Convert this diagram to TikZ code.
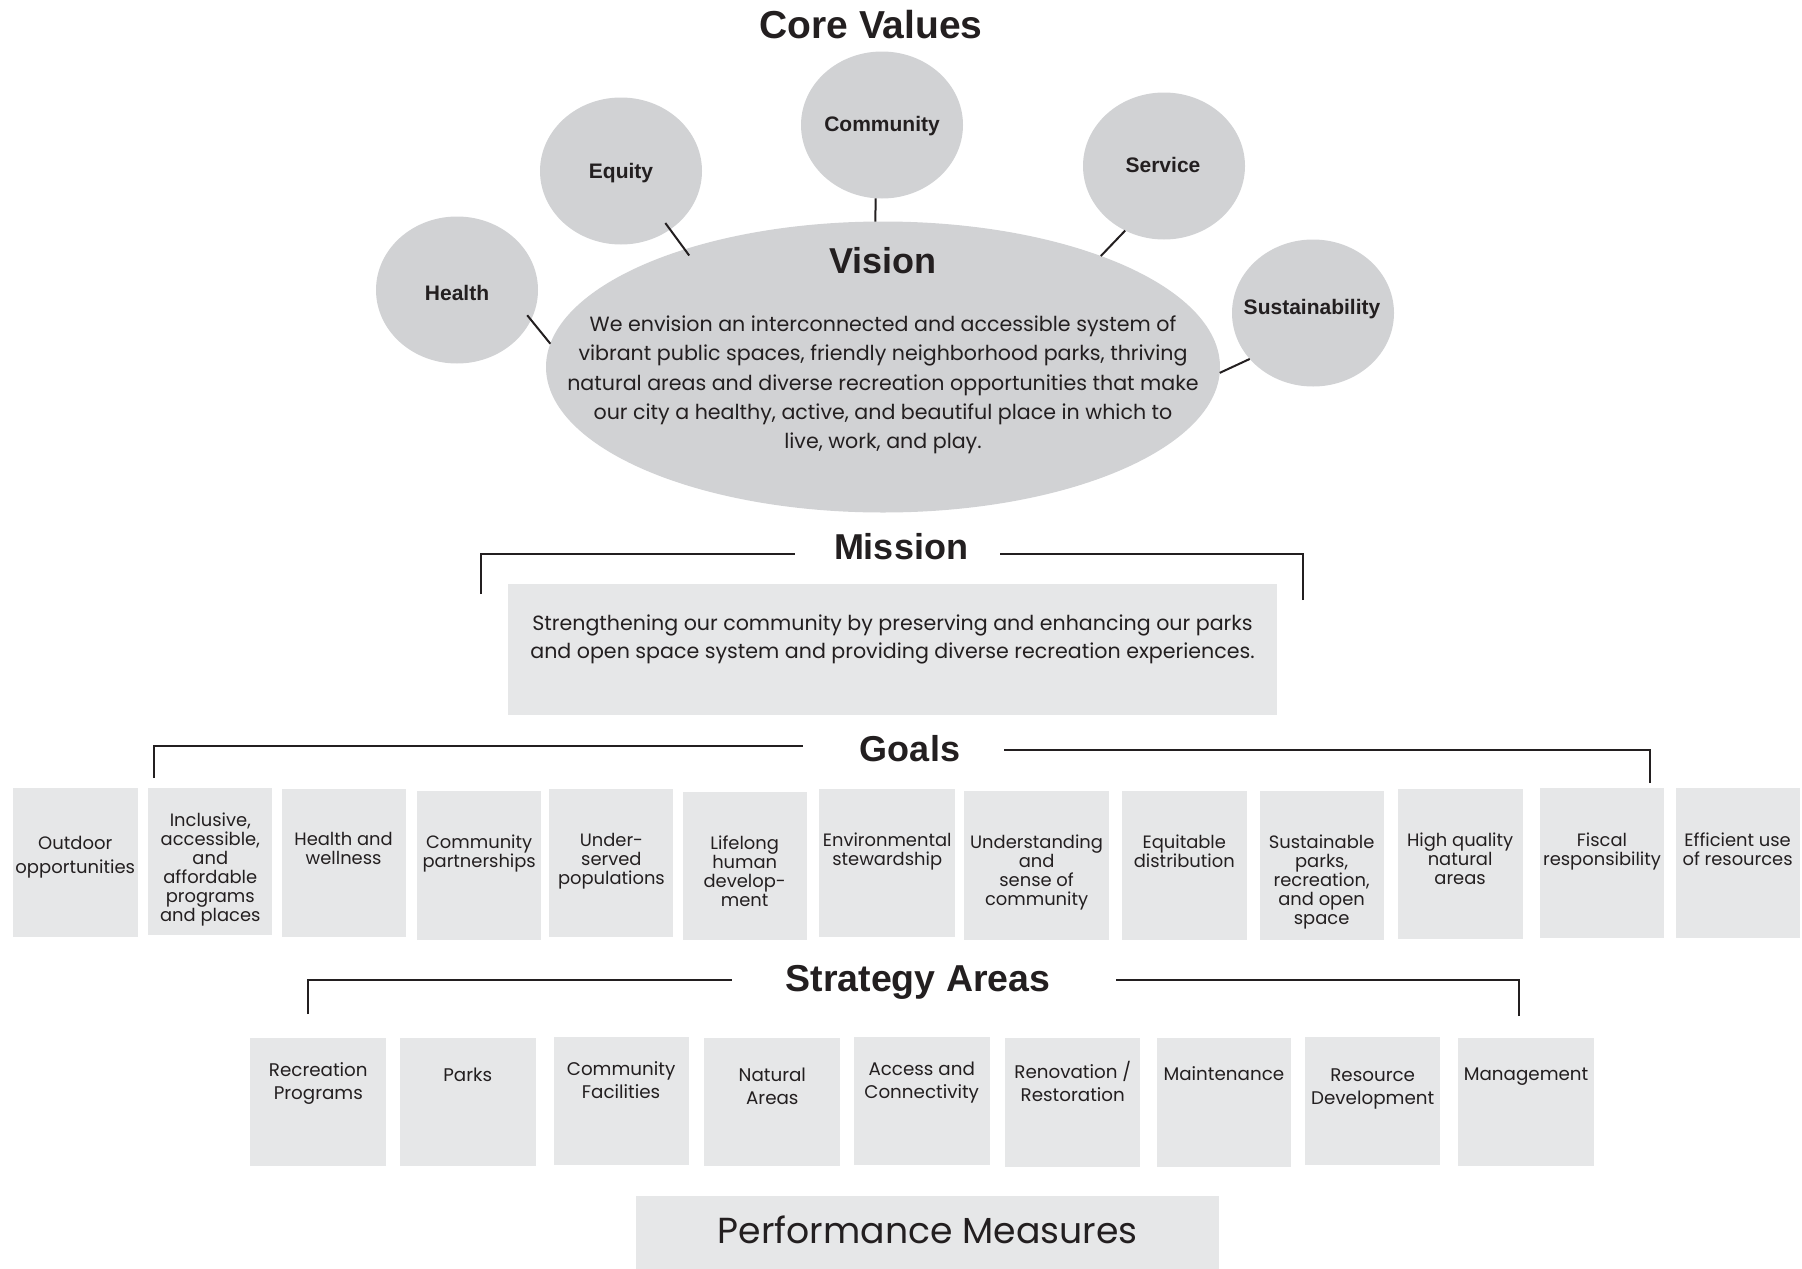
\documentclass[tikz,border=0pt]{standalone}
\usepackage{fontspec}
\setmainfont{Poppins}
\newfontfamily\headfont{Liberation Sans}
\usetikzlibrary{shapes.geometric}
\definecolor{cgray}{HTML}{D1D2D4}
\definecolor{bgray}{HTML}{E6E7E8}
\definecolor{txt}{HTML}{231F20}
\newcommand\boxitem[8]{%
  \node[itembox, minimum width=#5pt, minimum height={(#4-#3)*1pt}] (#1) at (#2,#3) {};
  \node[#8] (#1t) at ([yshift=-#6pt]#1.north) {#7};}
\begin{document}
\begin{tikzpicture}[x=1pt,y=-1pt,
  value/.style={ellipse, fill=cgray, minimum width=162pt, minimum height=147pt, inner sep=0pt, outer sep=0pt},
  valtext/.style={text=txt, inner sep=0pt, font=\headfont\bfseries\fontsize{21}{23}\selectfont},
  conn/.style={draw=txt, line width=2pt},
  heading/.style={text=txt, inner sep=0pt, font=\headfont\bfseries\fontsize{36}{40}\selectfont},
  itembox/.style={fill=bgray, inner sep=0pt, outer sep=0pt, anchor=north},
  gtext/.style={anchor=north, align=center, inner sep=0pt, text=txt, font=\fontsize{17.9}{19}\selectfont},
  gtextbig/.style={gtext, font=\fontsize{18}{24}\selectfont},
  stext/.style={anchor=north, align=center, inner sep=0pt, text=txt, font=\fontsize{18.3}{23}\selectfont},
  body/.style={align=center, inner sep=0pt, text=txt, font=\fontsize{20.6}{29.4}\selectfont}
]
\path[use as bounding box] (0,0) rectangle (1802,1269);

% Core values
\node[heading, font=\headfont\bfseries\fontsize{39}{41}\selectfont] (core) at (871,25) {Core Values};
\node[value] (health) at (457,290) {};
\node[value] (equity) at (621,171) {};
\node[value] (community) at (882,125) {};
\node[value] (service) at (1164,166) {};
\node[value] (sustain) at (1313,313) {};
\node[ellipse, fill=cgray, minimum width=674pt, minimum height=291pt, inner sep=0pt, outer sep=0pt] (vision) at (883,367) {};

\node[valtext] (healtht) at (457,293) {Health};
\node[valtext] (equityt) at (621,173) {Equity};
\node[valtext] (communityt) at (882,126) {Community};
\node[valtext] (servicet) at (1163,165) {Service};
\node[valtext] (sustaint) at (1312,309) {Sustainability};

\draw[conn, shorten <=-6pt] (health.-22) -- (vision.176);
\draw[conn, shorten <=-8pt] (equity.-50) -- ([xshift=8pt,yshift=-5pt]vision.150);
\draw[conn] (community.-95) -- (vision.93);
\draw[conn] (service.-121) -- (vision.27.5);
\draw[conn] (sustain.-144) -- (vision.-1.5);

\node[heading] (visionh) at (883,261) {Vision};
\node[body] (visiont) at (883,385) {We envision an interconnected and accessible system of\\
vibrant public spaces, friendly neighborhood parks, thriving\\
natural areas and diverse recreation opportunities that make\\
our city a healthy, active, and beautiful place in which to\\
live, work, and play.};

% Mission
\node[heading] (mission) at (901,547) {Mission};
\coordinate (mla) at (481,594); \coordinate (mlb) at (795,554);
\coordinate (mra) at (1303,600); \coordinate (mrb) at (1000,554);
\draw[conn] (mla) |- (mlb);
\draw[conn] (mra) |- (mrb);
\node[fill=bgray, minimum width=769pt, minimum height=131pt, inner sep=0pt, anchor=north] (missionbox) at (892.5,584) {};
\node[body, font=\fontsize{20.6}{27.5}\selectfont] (missiont) at (892.5,639.5) {Strengthening our community by preserving and enhancing our parks\\
and open space system and providing diverse recreation experiences.};

% Goals
\node[heading] (goals) at (910,749) {Goals};
\coordinate (gla) at (154,778); \coordinate (glb) at (803,746);
\coordinate (gra) at (1650,783); \coordinate (grb) at (1004,750);
\draw[conn] (gla) |- (glb);
\draw[conn] (gra) |- (grb);

\boxitem{g1}{75.3}{788}{937}{125}{48}{Outdoor\\opportunities}{gtextbig}
\boxitem{g2}{210.3}{788}{935}{124}{25}{Inclusive,\\accessible,\\and\\affordable\\programs\\and places}{gtext}
\boxitem{g3}{343.6}{789}{937}{124}{43.5}{Health and\\wellness}{gtext}
\boxitem{g4}{479.2}{791}{940}{124}{43.5}{Community\\partnerships}{gtext}
\boxitem{g5}{611.4}{789}{937}{124}{44.5}{Under-\\served\\populations}{gtext}
\boxitem{g6}{744.7}{792}{940}{124}{43.5}{Lifelong\\human\\develop-\\ment}{gtext}
\boxitem{g7}{887.2}{789}{937}{136}{43.5}{Environmental\\stewardship}{gtext}
\boxitem{g8}{1036.6}{791}{940}{145}{44}{Understanding\\and\\sense of\\community}{gtext}
\boxitem{g9}{1184.3}{791}{940}{125}{43.5}{Equitable\\distribution}{gtext}
\boxitem{g10}{1321.6}{791}{940}{124}{43.5}{Sustainable\\parks,\\recreation,\\and open\\space}{gtext}
\boxitem{g11}{1460.1}{789}{939}{125}{43.5}{High quality\\natural\\areas}{gtext}
\boxitem{g12}{1602}{788}{938}{124}{44.5}{Fiscal\\responsibility}{gtext}
\boxitem{g13}{1737.6}{788}{938}{124}{44.5}{Efficient use\\of resources}{gtext}

% Strategy areas
\node[heading, font=\headfont\bfseries\fontsize{37.5}{40}\selectfont] (strategy) at (918,982.5) {Strategy Areas};
\coordinate (sla) at (308,1014); \coordinate (slb) at (732,980);
\coordinate (sra) at (1519,1016); \coordinate (srb) at (1116,980);
\draw[conn] (sla) |- (slb);
\draw[conn] (sra) |- (srb);

\boxitem{s1}{318.3}{1038}{1166}{136}{24}{Recreation\\Programs}{stext}
\boxitem{s2}{467.7}{1038}{1166}{136}{30}{Parks}{stext}
\boxitem{s3}{621.1}{1037}{1165}{135}{24}{Community\\Facilities}{stext}
\boxitem{s4}{772.3}{1038}{1166}{136}{30}{Natural\\Areas}{stext}
\boxitem{s5}{921.7}{1037}{1165}{136}{25}{Access and\\Connectivity}{stext}
\boxitem{s6}{1072.8}{1038}{1167}{135}{23}{Renovation /\\Restoration}{stext}
\boxitem{s7}{1223.9}{1038}{1167}{134}{28}{Maintenance}{stext}
\boxitem{s8}{1372.7}{1037}{1165}{135}{32}{Resource\\Development}{stext}
\boxitem{s9}{1526.1}{1038}{1166}{136}{30}{Management}{stext}

% Performance measures
\node[fill=bgray, minimum width=583pt, minimum height=73pt, inner sep=0pt, anchor=north west] (perf) at (636,1196) {};
\node[text=txt, inner sep=0pt, font=\fontsize{36.2}{40}\selectfont] (perft) at ([yshift=2.5pt]perf.center) {Performance Measures};
\end{tikzpicture}
\end{document}
